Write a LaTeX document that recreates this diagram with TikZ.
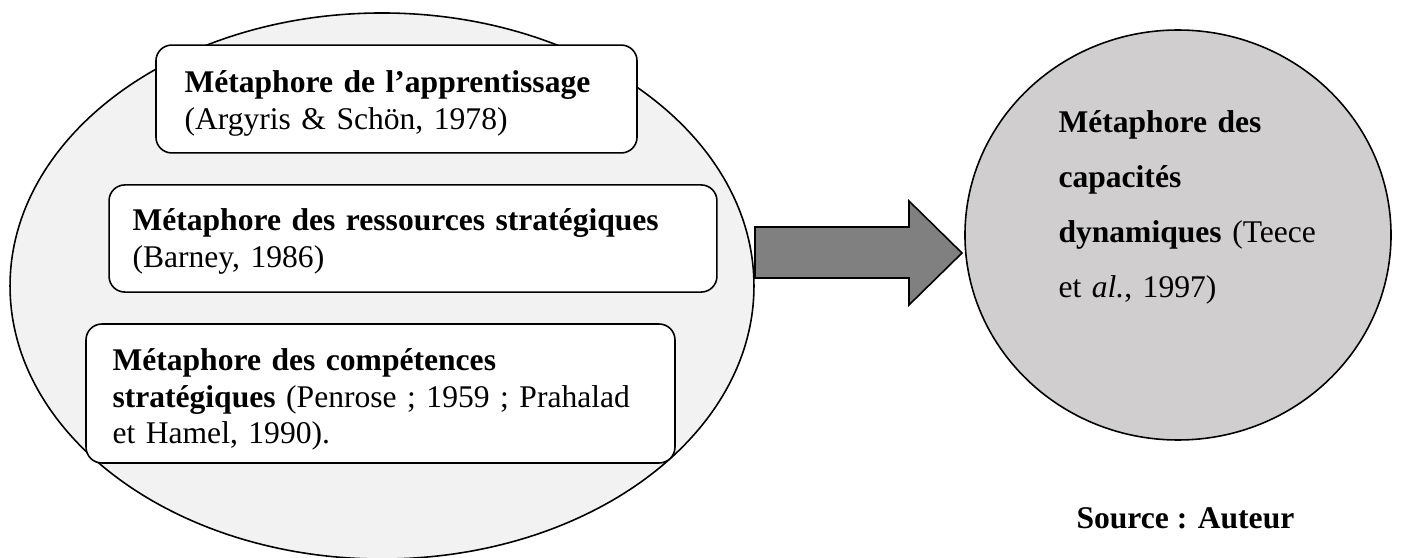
\documentclass[tikz,border=0pt]{standalone}
\usepackage{fontspec}
\setmainfont{Liberation Serif}
\usepackage{tikz}
\usetikzlibrary{shapes.geometric}

\definecolor{ovalgray}{HTML}{F2F2F2}
\definecolor{dyngray}{HTML}{D0CECE}
\definecolor{arrowgray}{HTML}{808080}

\begin{document}
\begin{tikzpicture}[x=0.38pt, y=-0.38pt,
  outline/.style={draw=black, line width=0.6pt},
  metabox/.style={outline, fill=white, rounded corners=6pt, inner sep=0pt},
  metatext/.style={anchor=base west, inner sep=0pt, text width=240pt, align=left,
    font=\fontsize{12}{13.7}\selectfont},
  captext/.style={metatext, text width=150pt, font=\fontsize{12}{20.9}\selectfont}]
  \useasboundingbox (0,0) rectangle (1402,558);

  % the three metaphors
  \node[outline, fill=ovalgray, ellipse, inner sep=0pt,
    minimum width=282.7pt, minimum height=207.5pt] (oval) at (382,286) {};

  \node[metabox, minimum width=182.8pt, minimum height=41pt] (apprent) at (396.5,99) {};
  \node[metatext] (apprenttxt) at (184,93)
    {\textbf{Métaphore de l’apprentissage}\\(Argyris \& Schön, 1978)};

  \node[metabox, minimum width=231pt, minimum height=40.7pt] (ressources) at (413,238.5) {};
  \node[metatext] (ressourcestxt) at (132,231)
    {\textbf{Métaphore des ressources stratégiques}\\(Barney, 1986)};

  \node[metabox, minimum width=223.8pt, minimum height=52.8pt] (competences) at (380.5,393.5) {};
  \node[metatext] (competencestxt) at (112,371)
    {\textbf{Métaphore des compétences}\\\textbf{stratégiques} (Penrose~; 1959~; Prahalad\\et Hamel, 1990).};

  % big arrow
  \draw[outline, fill=arrowgray] (755,227) -- (909,227) -- (909,201) -- (962,253)
    -- (909,305) -- (909,278) -- (755,278) -- cycle;

  % dynamic capabilities
  \node[outline, fill=dyngray, ellipse, inner sep=0pt,
    minimum width=161.9pt, minimum height=155.8pt] (dyn) at (1178,235) {};
  \node[captext] (dyntxt) at (1058,133)
    {\textbf{Métaphore des}\\\textbf{capacités}\\\textbf{dynamiques} (Teece\\et \textit{al.}, 1997)};

  \node[anchor=base west, inner sep=0pt, font=\fontsize{12}{13.7}\selectfont\bfseries]
    (source) at (1076,528) {Source~: Auteur};
\end{tikzpicture}
\end{document}
